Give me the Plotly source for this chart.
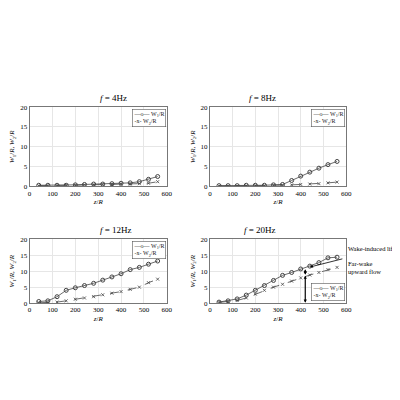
import plotly.graph_objects as go

x = [40, 80, 120, 160, 200, 240, 280, 320, 360, 400, 440, 480, 520, 560]
titles = ["<i>f</i> = 4Hz", "<i>f</i> = 8Hz", "<i>f</i> = 12Hz", "<i>f</i> = 20Hz"]
w1 = [
    [0.3, 0.3, 0.3, 0.3, 0.4, 0.5, 0.6, 0.6, 0.7, 0.8, 0.9, 1.2, 1.8, 2.5],
    [0.2, 0.2, 0.2, 0.3, 0.3, 0.3, 0.4, 0.5, 1.5, 2.6, 3.6, 4.6, 5.5, 6.3],
    [0.5, 0.7, 2.0, 4.0, 4.8, 5.5, 6.2, 7.2, 8.2, 9.2, 10.5, 11.2, 12.2, 13.2],
    [0.3, 0.7, 1.3, 2.5, 4.0, 5.5, 7.1, 8.7, 9.6, 10.7, 11.6, 12.7, 14.2, 14.4],
]
w2 = [
    [0.2, 0.2, 0.2, 0.3, 0.3, 0.4, 0.4, 0.5, 0.5, 0.6, 0.6, 0.7, 0.8, 1.2],
    [0.1, 0.1, 0.1, 0.2, 0.2, 0.2, 0.3, 0.3, 0.4, 0.5, 0.6, 0.7, 0.9, 1.1],
    [0.1, 0.2, 0.3, 0.7, 1.2, 1.6, 2.0, 2.6, 3.1, 3.6, 4.3, 5.0, 6.4, 7.5],
    [0.2, 0.4, 0.8, 1.6, 2.8, 4.0, 5.0, 5.9, 6.9, 7.9, 8.8, 9.6, 10.5, 11.2],
]

W, H = 400, 400
def px(a, b, n): return (a / n, b / n)
xdom = [px(20, 160, W), px(204, 343, W), px(20, 160, W), px(204, 343, W)]
ydom = [(1 - 178 / H, 1 - 97 / H), (1 - 178 / H, 1 - 97 / H), (1 - 297 / H, 1 - 232 / H), (1 - 297 / H, 1 - 232 / H)]
legpos = [(159, 99), (342, 99), (159, 234), (342, 277)]

fig = go.Figure()
font = dict(family="Liberation Serif", size=7, color="black")
for i in range(4):
    s = "" if i == 0 else str(i + 1)
    fig.add_trace(go.Scatter(x=x, y=w1[i], xaxis="x" + s, yaxis="y" + s, mode="lines+markers",
                             line=dict(color="#444", width=0.8),
                             marker=dict(symbol="circle-open", size=4, color="#444"), showlegend=False))
    fig.add_trace(go.Scatter(x=x, y=w2[i], xaxis="x" + s, yaxis="y" + s, mode="lines+markers",
                             line=dict(color="#444", width=0.8, dash="dash"),
                             marker=dict(symbol="x-thin-open", size=3, color="#444", line=dict(width=0.8, color="#444")),
                             showlegend=False))
    ax = dict(showline=True, mirror=True, linecolor="#777", linewidth=0.8, gridcolor="#e6e6e6",
              ticks="", zeroline=False, tickfont=font)
    fig.update_layout(**{
        "xaxis" + s: dict(ax, domain=xdom[i], range=[0, 600], dtick=100, anchor="y" + s,
                          title=dict(text="<i>z</i>/<i>R</i>", font=font, standoff=2)),
        "yaxis" + s: dict(ax, domain=ydom[i], range=[0, 20], dtick=5, anchor="x" + s,
                          title=dict(text="<i>W</i><sub>1</sub>/<i>R</i>, <i>W</i><sub>2</sub>/<i>R</i>", font=font, standoff=4)),
    })
    cx = (xdom[i][0] + xdom[i][1]) / 2
    fig.add_annotation(text=titles[i], x=cx, y=ydom[i][1] + 0.005, xref="paper", yref="paper",
                       yanchor="bottom", showarrow=False, font=dict(family="Liberation Serif", size=9, color="black"))
    lx, ly = legpos[i]
    fig.add_annotation(text="—o— W<sub>1</sub>/R<br>-x- W<sub>2</sub>/R", x=lx / W, y=1 - ly / H,
                       xref="paper", yref="paper", xanchor="right", yanchor="top", align="left",
                       showarrow=False, bordercolor="#555", borderwidth=0.6, bgcolor="white",
                       borderpad=1, font=dict(family="Liberation Serif", size=6, color="#222"))

# panel 4 arrows
arr = dict(xref="x4", yref="y4", axref="x4", ayref="y4", showarrow=True, arrowhead=2,
           arrowsize=0.8, arrowwidth=0.8, arrowcolor="black", text="")
fig.add_annotation(arr, x=420, y=0.1, ax=420, ay=8.6)
fig.add_annotation(arr, x=420, y=8.6, ax=420, ay=0.1)
fig.add_annotation(arr, x=420, y=8.9, ax=420, ay=10.6)
fig.add_annotation(arr, x=420, y=10.6, ax=420, ay=8.9)
fig.add_annotation(arr, x=440, y=11.3, ax=590, ay=14)
fig.add_annotation(text="Wake-induced lift", x=343 / W, y=1 - 241 / H, xref="paper", yref="paper",
                   xanchor="left", showarrow=False, font=dict(family="Liberation Serif", size=6.5, color="black"))
fig.add_annotation(text="Far-wake<br>upward flow", x=343 / W, y=1 - 270 / H, xref="paper", yref="paper",
                   xanchor="left", align="left", showarrow=False, font=dict(family="Liberation Serif", size=6.5, color="black"))

fig.update_layout(width=W, height=H, margin=dict(l=0, r=0, t=0, b=0), plot_bgcolor="white",
                  paper_bgcolor="white")
fig.write_html("out.html")
